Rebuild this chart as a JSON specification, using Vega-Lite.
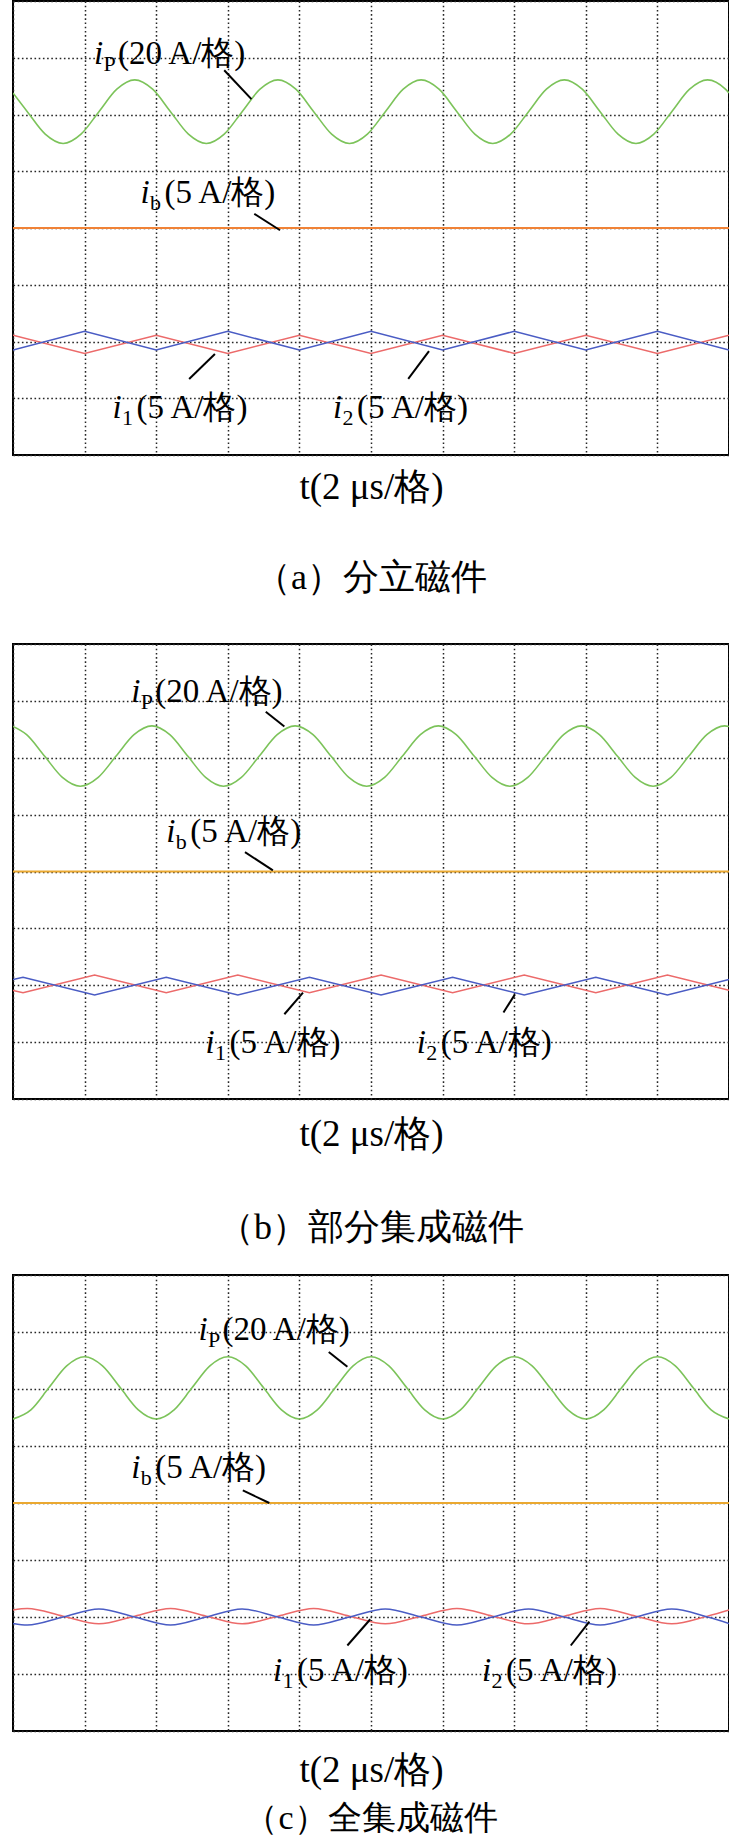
{
"$schema":"https://vega.github.io/schema/vega-lite/v6.json",
"padding":{"left":12,"top":0,"right":0,"bottom":0},
"background":"white",
"bounds":"flush",
"spacing":189,
"config":{
 "view":{"stroke":"#000","strokeWidth":2},
 "axis":{"domain":false,"ticks":false,"labels":false,"grid":true,"gridColor":"#262626","gridDash":[1.6,2.6],"gridWidth":1.5,"titleFont":"Liberation Serif","titleFontSize":37,"titleFontWeight":"normal","titleColor":"#000"},
 "title":{"orient":"bottom","font":"Liberation Serif","fontSize":36,"fontWeight":"normal","color":"#000","anchor":"middle"},
 "text":{"color":"#000"}
},
"datasets":{
"a":[
{"s":"iP","t":0,"v":6.379},{"s":"iP","t":0.2,"v":6.05},{"s":"iP","t":0.45,"v":5.654},{"s":"iP","t":0.7,"v":5.49},{"s":"iP","t":0.95,"v":5.654},{"s":"iP","t":1.2,"v":6.05},{"s":"iP","t":1.45,"v":6.446},{"s":"iP","t":1.7,"v":6.61},{"s":"iP","t":1.95,"v":6.446},
{"s":"iP","t":2.2,"v":6.05},{"s":"iP","t":2.45,"v":5.654},{"s":"iP","t":2.7,"v":5.49},{"s":"iP","t":2.95,"v":5.654},{"s":"iP","t":3.2,"v":6.05},{"s":"iP","t":3.45,"v":6.446},{"s":"iP","t":3.7,"v":6.61},{"s":"iP","t":3.95,"v":6.446},
{"s":"iP","t":4.2,"v":6.05},{"s":"iP","t":4.45,"v":5.654},{"s":"iP","t":4.7,"v":5.49},{"s":"iP","t":4.95,"v":5.654},{"s":"iP","t":5.2,"v":6.05},{"s":"iP","t":5.45,"v":6.446},{"s":"iP","t":5.7,"v":6.61},{"s":"iP","t":5.95,"v":6.446},
{"s":"iP","t":6.2,"v":6.05},{"s":"iP","t":6.45,"v":5.654},{"s":"iP","t":6.7,"v":5.49},{"s":"iP","t":6.95,"v":5.654},{"s":"iP","t":7.2,"v":6.05},{"s":"iP","t":7.45,"v":6.446},{"s":"iP","t":7.7,"v":6.61},{"s":"iP","t":7.95,"v":6.446},
{"s":"iP","t":8.2,"v":6.05},{"s":"iP","t":8.45,"v":5.654},{"s":"iP","t":8.7,"v":5.49},{"s":"iP","t":8.95,"v":5.654},{"s":"iP","t":9.2,"v":6.05},{"s":"iP","t":9.45,"v":6.446},{"s":"iP","t":9.7,"v":6.61},{"s":"iP","t":9.95,"v":6.446},{"s":"iP","t":10,"v":6.379},
{"s":"ib","t":0,"v":4.0},{"s":"ib","t":10,"v":4.0},
{"s":"i1","t":0,"v":2.11},{"s":"i1","t":1,"v":1.79},{"s":"i1","t":2,"v":2.11},{"s":"i1","t":3,"v":1.79},{"s":"i1","t":4,"v":2.11},{"s":"i1","t":5,"v":1.79},{"s":"i1","t":6,"v":2.11},{"s":"i1","t":7,"v":1.79},{"s":"i1","t":8,"v":2.11},{"s":"i1","t":9,"v":1.79},{"s":"i1","t":10,"v":2.11},
{"s":"i2","t":0,"v":1.85},{"s":"i2","t":1,"v":2.18},{"s":"i2","t":2,"v":1.85},{"s":"i2","t":3,"v":2.18},{"s":"i2","t":4,"v":1.85},{"s":"i2","t":5,"v":2.18},{"s":"i2","t":6,"v":1.85},{"s":"i2","t":7,"v":2.18},{"s":"i2","t":8,"v":1.85},{"s":"i2","t":9,"v":2.18},{"s":"i2","t":10,"v":1.85}
],
"b":[
{"s":"iP","t":0,"v":6.55},{"s":"iP","t":0.19,"v":6.405},{"s":"iP","t":0.44,"v":6.03},{"s":"iP","t":0.69,"v":5.655},{"s":"iP","t":0.94,"v":5.5},{"s":"iP","t":1.19,"v":5.655},{"s":"iP","t":1.44,"v":6.03},{"s":"iP","t":1.69,"v":6.405},{"s":"iP","t":1.94,"v":6.56},
{"s":"iP","t":2.19,"v":6.405},{"s":"iP","t":2.44,"v":6.03},{"s":"iP","t":2.69,"v":5.655},{"s":"iP","t":2.94,"v":5.5},{"s":"iP","t":3.19,"v":5.655},{"s":"iP","t":3.44,"v":6.03},{"s":"iP","t":3.69,"v":6.405},{"s":"iP","t":3.94,"v":6.56},
{"s":"iP","t":4.19,"v":6.405},{"s":"iP","t":4.44,"v":6.03},{"s":"iP","t":4.69,"v":5.655},{"s":"iP","t":4.94,"v":5.5},{"s":"iP","t":5.19,"v":5.655},{"s":"iP","t":5.44,"v":6.03},{"s":"iP","t":5.69,"v":6.405},{"s":"iP","t":5.94,"v":6.56},
{"s":"iP","t":6.19,"v":6.405},{"s":"iP","t":6.44,"v":6.03},{"s":"iP","t":6.69,"v":5.655},{"s":"iP","t":6.94,"v":5.5},{"s":"iP","t":7.19,"v":5.655},{"s":"iP","t":7.44,"v":6.03},{"s":"iP","t":7.69,"v":6.405},{"s":"iP","t":7.94,"v":6.56},
{"s":"iP","t":8.19,"v":6.405},{"s":"iP","t":8.44,"v":6.03},{"s":"iP","t":8.69,"v":5.655},{"s":"iP","t":8.94,"v":5.5},{"s":"iP","t":9.19,"v":5.655},{"s":"iP","t":9.44,"v":6.03},{"s":"iP","t":9.69,"v":6.405},{"s":"iP","t":9.94,"v":6.56},{"s":"iP","t":10,"v":6.55},
{"s":"ib","t":0,"v":4.0},{"s":"ib","t":10,"v":4.0},
{"s":"i1","t":0,"v":1.91},{"s":"i1","t":0.14,"v":1.87},{"s":"i1","t":1.14,"v":2.18},{"s":"i1","t":2.14,"v":1.87},{"s":"i1","t":3.14,"v":2.18},{"s":"i1","t":4.14,"v":1.87},{"s":"i1","t":5.14,"v":2.18},{"s":"i1","t":6.14,"v":1.87},{"s":"i1","t":7.14,"v":2.18},{"s":"i1","t":8.14,"v":1.87},{"s":"i1","t":9.14,"v":2.18},{"s":"i1","t":10,"v":1.91},
{"s":"i2","t":0,"v":2.1},{"s":"i2","t":0.14,"v":2.14},{"s":"i2","t":1.14,"v":1.83},{"s":"i2","t":2.14,"v":2.14},{"s":"i2","t":3.14,"v":1.83},{"s":"i2","t":4.14,"v":2.14},{"s":"i2","t":5.14,"v":1.83},{"s":"i2","t":6.14,"v":2.14},{"s":"i2","t":7.14,"v":1.83},{"s":"i2","t":8.14,"v":2.14},{"s":"i2","t":9.14,"v":1.83},{"s":"i2","t":10,"v":2.1}
],
"c":[
{"s":"iP","t":0,"v":5.475},{"s":"iP","t":0.25,"v":5.635},{"s":"iP","t":0.5,"v":6.02},{"s":"iP","t":0.75,"v":6.405},{"s":"iP","t":1,"v":6.565},{"s":"iP","t":1.25,"v":6.405},{"s":"iP","t":1.5,"v":6.02},{"s":"iP","t":1.75,"v":5.635},
{"s":"iP","t":2,"v":5.475},{"s":"iP","t":2.25,"v":5.635},{"s":"iP","t":2.5,"v":6.02},{"s":"iP","t":2.75,"v":6.405},{"s":"iP","t":3,"v":6.565},{"s":"iP","t":3.25,"v":6.405},{"s":"iP","t":3.5,"v":6.02},{"s":"iP","t":3.75,"v":5.635},
{"s":"iP","t":4,"v":5.475},{"s":"iP","t":4.25,"v":5.635},{"s":"iP","t":4.5,"v":6.02},{"s":"iP","t":4.75,"v":6.405},{"s":"iP","t":5,"v":6.565},{"s":"iP","t":5.25,"v":6.405},{"s":"iP","t":5.5,"v":6.02},{"s":"iP","t":5.75,"v":5.635},
{"s":"iP","t":6,"v":5.475},{"s":"iP","t":6.25,"v":5.635},{"s":"iP","t":6.5,"v":6.02},{"s":"iP","t":6.75,"v":6.405},{"s":"iP","t":7,"v":6.565},{"s":"iP","t":7.25,"v":6.405},{"s":"iP","t":7.5,"v":6.02},{"s":"iP","t":7.75,"v":5.635},
{"s":"iP","t":8,"v":5.475},{"s":"iP","t":8.25,"v":5.635},{"s":"iP","t":8.5,"v":6.02},{"s":"iP","t":8.75,"v":6.405},{"s":"iP","t":9,"v":6.565},{"s":"iP","t":9.25,"v":6.405},{"s":"iP","t":9.5,"v":6.02},{"s":"iP","t":9.75,"v":5.635},{"s":"iP","t":10,"v":5.475},
{"s":"ib","t":0,"v":4.0},{"s":"ib","t":10,"v":4.0},
{"s":"i1","t":0,"v":2.124},{"s":"i1","t":0.2,"v":2.15},{"s":"i1","t":0.7,"v":2.015},{"s":"i1","t":1.2,"v":1.88},{"s":"i1","t":1.7,"v":2.015},{"s":"i1","t":2.2,"v":2.15},{"s":"i1","t":2.7,"v":2.015},{"s":"i1","t":3.2,"v":1.88},{"s":"i1","t":3.7,"v":2.015},{"s":"i1","t":4.2,"v":2.15},{"s":"i1","t":4.7,"v":2.015},{"s":"i1","t":5.2,"v":1.88},{"s":"i1","t":5.7,"v":2.015},{"s":"i1","t":6.2,"v":2.15},{"s":"i1","t":6.7,"v":2.015},{"s":"i1","t":7.2,"v":1.88},{"s":"i1","t":7.7,"v":2.015},{"s":"i1","t":8.2,"v":2.15},{"s":"i1","t":8.7,"v":2.015},{"s":"i1","t":9.2,"v":1.88},{"s":"i1","t":9.7,"v":2.015},{"s":"i1","t":10,"v":2.124},
{"s":"i2","t":0,"v":1.887},{"s":"i2","t":0.2,"v":1.86},{"s":"i2","t":0.7,"v":2.0},{"s":"i2","t":1.2,"v":2.14},{"s":"i2","t":1.7,"v":2.0},{"s":"i2","t":2.2,"v":1.86},{"s":"i2","t":2.7,"v":2.0},{"s":"i2","t":3.2,"v":2.14},{"s":"i2","t":3.7,"v":2.0},{"s":"i2","t":4.2,"v":1.86},{"s":"i2","t":4.7,"v":2.0},{"s":"i2","t":5.2,"v":2.14},{"s":"i2","t":5.7,"v":2.0},{"s":"i2","t":6.2,"v":1.86},{"s":"i2","t":6.7,"v":2.0},{"s":"i2","t":7.2,"v":2.14},{"s":"i2","t":7.7,"v":2.0},{"s":"i2","t":8.2,"v":1.86},{"s":"i2","t":8.7,"v":2.0},{"s":"i2","t":9.2,"v":2.14},{"s":"i2","t":9.7,"v":2.0},{"s":"i2","t":10,"v":1.887}
],
"labels":[
{"p":"a","t":1.13,"v":7.07,"sub":"P","rest":"(20 A/格)"},
{"p":"a","t":1.78,"v":4.62,"sub":"b","rest":"(5 A/格)"},
{"p":"a","t":1.39,"v":0.83,"sub":"1","rest":"(5 A/格)"},
{"p":"a","t":4.47,"v":0.83,"sub":"2","rest":"(5 A/格)"},
{"p":"b","t":1.65,"v":7.16,"sub":"P","rest":"(20 A/格)"},
{"p":"b","t":2.14,"v":4.69,"sub":"b","rest":"(5 A/格)"},
{"p":"b","t":2.69,"v":0.99,"sub":"1","rest":"(5 A/格)"},
{"p":"b","t":5.64,"v":0.99,"sub":"2","rest":"(5 A/格)"},
{"p":"c","t":2.59,"v":7.04,"sub":"P","rest":"(20 A/格)"},
{"p":"c","t":1.65,"v":4.61,"sub":"b","rest":"(5 A/格)"},
{"p":"c","t":3.63,"v":1.05,"sub":"1","rest":"(5 A/格)"},
{"p":"c","t":6.55,"v":1.05,"sub":"2","rest":"(5 A/格)"}
],
"leaders":[
{"p":"a","t":2.95,"v":6.78,"t2":3.33,"v2":6.27},
{"p":"a","t":3.37,"v":4.25,"t2":3.73,"v2":3.96},
{"p":"a","t":2.46,"v":1.34,"t2":2.82,"v2":1.78},
{"p":"a","t":5.52,"v":1.34,"t2":5.81,"v2":1.83},
{"p":"b","t":3.53,"v":6.81,"t2":3.79,"v2":6.55},
{"p":"b","t":3.24,"v":4.34,"t2":3.63,"v2":4.02},
{"p":"b","t":3.79,"v":1.49,"t2":4.05,"v2":1.87},
{"p":"b","t":6.85,"v":1.52,"t2":7.01,"v2":1.84},
{"p":"c","t":4.41,"v":6.65,"t2":4.67,"v2":6.39},
{"p":"c","t":3.21,"v":4.22,"t2":3.58,"v2":4.0},
{"p":"c","t":4.67,"v":1.5,"t2":4.99,"v2":1.96},
{"p":"c","t":7.79,"v":1.5,"t2":8.05,"v2":1.92}
]
},
"vconcat":[
{
 "width":716,"height":454,
 "title":{"text":"（a）分立磁件","offset":56,"font":"Liberation Serif","fontSize":36},
 "encoding":{
  "x":{"field":"t","type":"quantitative","scale":{"domain":[0,10],"nice":false,"zero":false},"axis":{"values":[0,1,2,3,4,5,6,7,8,9,10],"title":"t(2 μs/格)","titlePadding":14,"titleFont":"Liberation Serif","titleFontSize":37}},
  "y":{"field":"v","type":"quantitative","scale":{"domain":[0,8],"nice":false,"zero":false},"axis":{"values":[0,1,2,3,4,5,6,7,8],"title":null}}
 },
 "layer":[
  {"data":{"name":"a"},"transform":[{"filter":"datum.s==='iP'"}],"mark":{"type":"line","interpolate":"monotone","color":"#7cc35a","strokeWidth":1.6,"clip":true}},
  {"data":{"name":"a"},"transform":[{"filter":"datum.s==='ib'"}],"mark":{"type":"line","color":"#f08236","strokeWidth":1.8,"clip":true}},
  {"data":{"name":"a"},"transform":[{"filter":"datum.s==='i1'"}],"mark":{"type":"line","color":"#ec6a6a","strokeWidth":1.5,"clip":true}},
  {"data":{"name":"a"},"transform":[{"filter":"datum.s==='i2'"}],"mark":{"type":"line","color":"#4a5cc4","strokeWidth":1.5,"clip":true}},
  {"data":{"name":"leaders"},"transform":[{"filter":"datum.p==='a'"}],"mark":{"type":"rule","color":"#000","strokeWidth":2},"encoding":{"x2":{"field":"t2"},"y2":{"field":"v2"}}},
  {"data":{"name":"labels"},"transform":[{"filter":"datum.p==='a'"}],"mark":{"type":"text","text":"i","font":"Liberation Serif","fontStyle":"italic","fontSize":33,"align":"left","baseline":"middle"}},
  {"data":{"name":"labels"},"transform":[{"filter":"datum.p==='a'"}],"mark":{"type":"text","font":"Liberation Serif","fontSize":22,"align":"left","baseline":"middle","dx":9.5,"dy":10},"encoding":{"text":{"field":"sub"}}},
  {"data":{"name":"labels"},"transform":[{"filter":"datum.p==='a'"}],"mark":{"type":"text","font":"Liberation Serif","fontSize":33,"align":"left","baseline":"middle","dx":24},"encoding":{"text":{"field":"rest"}}}
 ]
},
{
 "bounds":"flush",
 "spacing":176,
 "vconcat":[
 {
  "width":716,"height":455,
  "title":{"text":"（b）部分集成磁件","offset":59,"font":"Liberation Serif","fontSize":36},
  "encoding":{
   "x":{"field":"t","type":"quantitative","scale":{"domain":[0,10],"nice":false,"zero":false},"axis":{"values":[0,1,2,3,4,5,6,7,8,9,10],"title":"t(2 μs/格)","titlePadding":17,"titleFont":"Liberation Serif","titleFontSize":37}},
   "y":{"field":"v","type":"quantitative","scale":{"domain":[0,8],"nice":false,"zero":false},"axis":{"values":[0,1,2,3,4,5,6,7,8],"title":null}}
  },
  "layer":[
   {"data":{"name":"b"},"transform":[{"filter":"datum.s==='iP'"}],"mark":{"type":"line","interpolate":"monotone","color":"#7cc35a","strokeWidth":1.6,"clip":true}},
   {"data":{"name":"b"},"transform":[{"filter":"datum.s==='ib'"}],"mark":{"type":"line","color":"#eaa830","strokeWidth":1.8,"clip":true}},
   {"data":{"name":"b"},"transform":[{"filter":"datum.s==='i1'"}],"mark":{"type":"line","color":"#ec6a6a","strokeWidth":1.5,"clip":true}},
   {"data":{"name":"b"},"transform":[{"filter":"datum.s==='i2'"}],"mark":{"type":"line","color":"#4a5cc4","strokeWidth":1.5,"clip":true}},
   {"data":{"name":"leaders"},"transform":[{"filter":"datum.p==='b'"}],"mark":{"type":"rule","color":"#000","strokeWidth":2},"encoding":{"x2":{"field":"t2"},"y2":{"field":"v2"}}},
   {"data":{"name":"labels"},"transform":[{"filter":"datum.p==='b'"}],"mark":{"type":"text","text":"i","font":"Liberation Serif","fontStyle":"italic","fontSize":33,"align":"left","baseline":"middle"}},
   {"data":{"name":"labels"},"transform":[{"filter":"datum.p==='b'"}],"mark":{"type":"text","font":"Liberation Serif","fontSize":22,"align":"left","baseline":"middle","dx":9.5,"dy":10},"encoding":{"text":{"field":"sub"}}},
   {"data":{"name":"labels"},"transform":[{"filter":"datum.p==='b'"}],"mark":{"type":"text","font":"Liberation Serif","fontSize":33,"align":"left","baseline":"middle","dx":24},"encoding":{"text":{"field":"rest"}}}
  ]
 },
 {
  "width":716,"height":456,
  "title":{"text":"（c）全集成磁件","offset":14,"font":"Liberation Serif","fontSize":34},
  "encoding":{
   "x":{"field":"t","type":"quantitative","scale":{"domain":[0,10],"nice":false,"zero":false},"axis":{"values":[0,1,2,3,4,5,6,7,8,9,10],"title":"t(2 μs/格)","titlePadding":21,"titleFont":"Liberation Serif","titleFontSize":37}},
   "y":{"field":"v","type":"quantitative","scale":{"domain":[0,8],"nice":false,"zero":false},"axis":{"values":[0,1,2,3,4,5,6,7,8],"title":null}}
  },
  "layer":[
   {"data":{"name":"c"},"transform":[{"filter":"datum.s==='iP'"}],"mark":{"type":"line","interpolate":"monotone","color":"#7cc35a","strokeWidth":1.6,"clip":true}},
   {"data":{"name":"c"},"transform":[{"filter":"datum.s==='ib'"}],"mark":{"type":"line","color":"#eaa830","strokeWidth":1.8,"clip":true}},
   {"data":{"name":"c"},"transform":[{"filter":"datum.s==='i1'"}],"mark":{"type":"line","interpolate":"monotone","color":"#ec6a6a","strokeWidth":1.5,"clip":true}},
   {"data":{"name":"c"},"transform":[{"filter":"datum.s==='i2'"}],"mark":{"type":"line","interpolate":"monotone","color":"#4a5cc4","strokeWidth":1.5,"clip":true}},
   {"data":{"name":"leaders"},"transform":[{"filter":"datum.p==='c'"}],"mark":{"type":"rule","color":"#000","strokeWidth":2},"encoding":{"x2":{"field":"t2"},"y2":{"field":"v2"}}},
   {"data":{"name":"labels"},"transform":[{"filter":"datum.p==='c'"}],"mark":{"type":"text","text":"i","font":"Liberation Serif","fontStyle":"italic","fontSize":33,"align":"left","baseline":"middle"}},
   {"data":{"name":"labels"},"transform":[{"filter":"datum.p==='c'"}],"mark":{"type":"text","font":"Liberation Serif","fontSize":22,"align":"left","baseline":"middle","dx":9.5,"dy":10},"encoding":{"text":{"field":"sub"}}},
   {"data":{"name":"labels"},"transform":[{"filter":"datum.p==='c'"}],"mark":{"type":"text","font":"Liberation Serif","fontSize":33,"align":"left","baseline":"middle","dx":24},"encoding":{"text":{"field":"rest"}}}
  ]
 }
 ]
}
]
}
